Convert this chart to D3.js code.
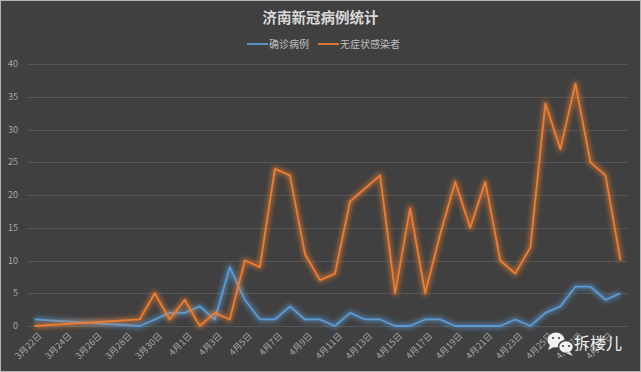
<!DOCTYPE html>
<html>
<head>
<meta charset="utf-8">
<script src="https://cdn.jsdelivr.net/npm/d3@7"></script>
<style>
  body { margin: 0; background: #404040; }
  svg { display: block; font-family: "Noto Sans CJK SC", "Noto Sans", sans-serif; }
</style>
</head>
<body>
<div id="chart"></div>
<script>
// dates that have a report (gap between 3/22 and 3/29)
const dates = ['2022-03-22', '2022-03-29', '2022-03-30', '2022-03-31',
  '2022-04-01', '2022-04-02', '2022-04-03', '2022-04-04', '2022-04-05', '2022-04-06',
  '2022-04-07', '2022-04-08', '2022-04-09', '2022-04-10', '2022-04-11', '2022-04-12',
  '2022-04-13', '2022-04-14', '2022-04-15', '2022-04-16', '2022-04-17', '2022-04-18',
  '2022-04-19', '2022-04-20', '2022-04-21', '2022-04-22', '2022-04-23', '2022-04-24',
  '2022-04-25', '2022-04-26', '2022-04-27', '2022-04-28', '2022-04-29', '2022-04-30'];
const confirmed = [1, 0, 1, 2, 2, 3, 1, 9, 4, 1, 1, 3, 1, 1, 0, 2, 1, 1, 0, 0, 1, 1,
  0, 0, 0, 0, 1, 0, 2, 3, 6, 6, 4, 5];
const asymptomatic = [0, 1, 5, 1, 4, 0, 2, 1, 10, 9, 24, 23, 11, 7, 8, 19, 21, 23, 5, 18, 5, 14,
  22, 15, 22, 10, 8, 12, 34, 27, 37, 25, 23, 10];
const yTicks = [0, 5, 10, 15, 20, 25, 30, 35, 40];
const seriesNames = ['确诊病例', '无症状感染者'];
const seriesColors = ['#5b9bd5', '#ed7d31'];
const title = '济南新冠病例统计';

const W = 641, H = 372;
const margin = {top: 64, right: 13, bottom: 46, left: 27};
const DAY = 864e5;

const svg = d3.select('#chart').append('svg')
  .attr('width', W).attr('height', H);

svg.append('rect').attr('x', 0.5).attr('y', 0.5)
  .attr('width', W - 1).attr('height', H - 1)
  .attr('fill', '#404040').attr('stroke', '#b4b4b4');

const defs = svg.append('defs');
defs.append('filter').attr('id', 'glow')
  .attr('filterUnits', 'userSpaceOnUse')
  .attr('x', 0).attr('y', 0).attr('width', W).attr('height', H)
  .append('feGaussianBlur').attr('stdDeviation', 2);

const parse = d3.utcParse('%Y-%m-%d');
const start = parse(dates[0]);
const end = new Date(parse(dates[dates.length - 1]).getTime() + DAY);

const x = d3.scaleUtc()
  .domain([start, end])
  .range([margin.left, W - margin.right]);
const y = d3.scaleLinear()
  .domain([0, 40])
  .range([H - margin.bottom, margin.top]);

const mid = d => new Date(d.getTime() + DAY / 2);

// gridlines
svg.append('g').selectAll('line')
  .data(yTicks)
  .join('line')
  .attr('x1', margin.left).attr('x2', W - margin.right)
  .attr('y1', d => Math.round(y(d)) + 0.5).attr('y2', d => Math.round(y(d)) + 0.5)
  .attr('stroke', '#555555');

// y labels
svg.append('g').selectAll('text')
  .data(yTicks)
  .join('text')
  .attr('x', 18).attr('y', d => y(d))
  .attr('dy', '0.35em')
  .attr('text-anchor', 'end')
  .attr('fill', '#a6a6a6')
  .attr('font-size', 9)
  .text(d => d);

// x axis, a label every second day counted from the first date
const tickDays = d3.utcDay.range(start, end, 2).map(mid);
const xAxis = d3.axisBottom(x)
  .tickValues(tickDays)
  .tickSize(0)
  .tickFormat(d => `${d.getUTCMonth() + 1}月${d.getUTCDate()}日`);

const gx = svg.append('g')
  .attr('transform', `translate(0,${H - margin.bottom + 6})`)
  .call(xAxis);
gx.select('.domain').remove();
gx.selectAll('text')
  .attr('fill', '#a6a6a6')
  .attr('font-size', 9)
  .attr('font-family', '"Noto Sans CJK SC", sans-serif')
  .attr('text-anchor', 'end')
  .attr('dy', '0.35em')
  .attr('transform', 'translate(3,0) rotate(-45)');

// lines
const rows = dates.map((d, i) => ({date: mid(parse(d)), values: [confirmed[i], asymptomatic[i]]}));

[0, 1].forEach(k => {
  const line = d3.line()
    .x(d => x(d.date))
    .y(d => y(d.values[k]));
  svg.append('path')
    .datum(rows)
    .attr('d', line)
    .attr('fill', 'none')
    .attr('stroke', seriesColors[k])
    .attr('stroke-width', 6)
    .attr('stroke-opacity', 0.5)
    .attr('stroke-linejoin', 'round')
    .attr('filter', 'url(#glow)');
  svg.append('path')
    .datum(rows)
    .attr('d', line)
    .attr('fill', 'none')
    .attr('stroke', seriesColors[k])
    .attr('stroke-width', 1.8)
    .attr('stroke-linejoin', 'round');
});

// title
svg.append('text')
  .attr('x', W / 2).attr('y', 23)
  .attr('text-anchor', 'middle')
  .attr('fill', '#d9d9d9')
  .attr('font-size', 14.5)
  .attr('font-weight', 'bold')
  .text(title);

// legend
const legendPos = [247, 318];
const legend = svg.append('g').selectAll('g')
  .data(seriesNames)
  .join('g')
  .attr('transform', (d, i) => `translate(${legendPos[i]},44)`);
legend.append('line')
  .attr('x1', 0).attr('x2', 21)
  .attr('stroke', (d, i) => seriesColors[i])
  .attr('stroke-width', 1.8);
legend.append('text')
  .attr('x', 22).attr('dy', '0.35em')
  .attr('fill', '#bfbfbf')
  .attr('font-size', 10)
  .text(d => d);

// watermark
const wm = svg.append('g');
wm.append('ellipse').attr('cx', 556).attr('cy', 340).attr('rx', 8.5).attr('ry', 7.5).attr('fill', '#f2f2f2');
wm.append('path').attr('d', 'M550,345 L548,350 L554,347 Z').attr('fill', '#f2f2f2');
wm.append('ellipse').attr('cx', 566).attr('cy', 347).attr('rx', 7.5).attr('ry', 6.5)
  .attr('fill', '#f2f2f2').attr('stroke', '#404040').attr('stroke-width', 1.5);
wm.append('path').attr('d', 'M570,352 L573,356 L566,353 Z').attr('fill', '#f2f2f2');
[[553, 338], [559, 338], [563, 346], [569, 346]].forEach(p => {
  wm.append('circle').attr('cx', p[0]).attr('cy', p[1]).attr('r', 1.1).attr('fill', '#404040');
});
wm.append('text')
  .attr('x', 574).attr('y', 349)
  .attr('fill', '#f0f0f0')
  .attr('font-size', 16)
  .text('拆楼儿');
</script>
</body>
</html>
